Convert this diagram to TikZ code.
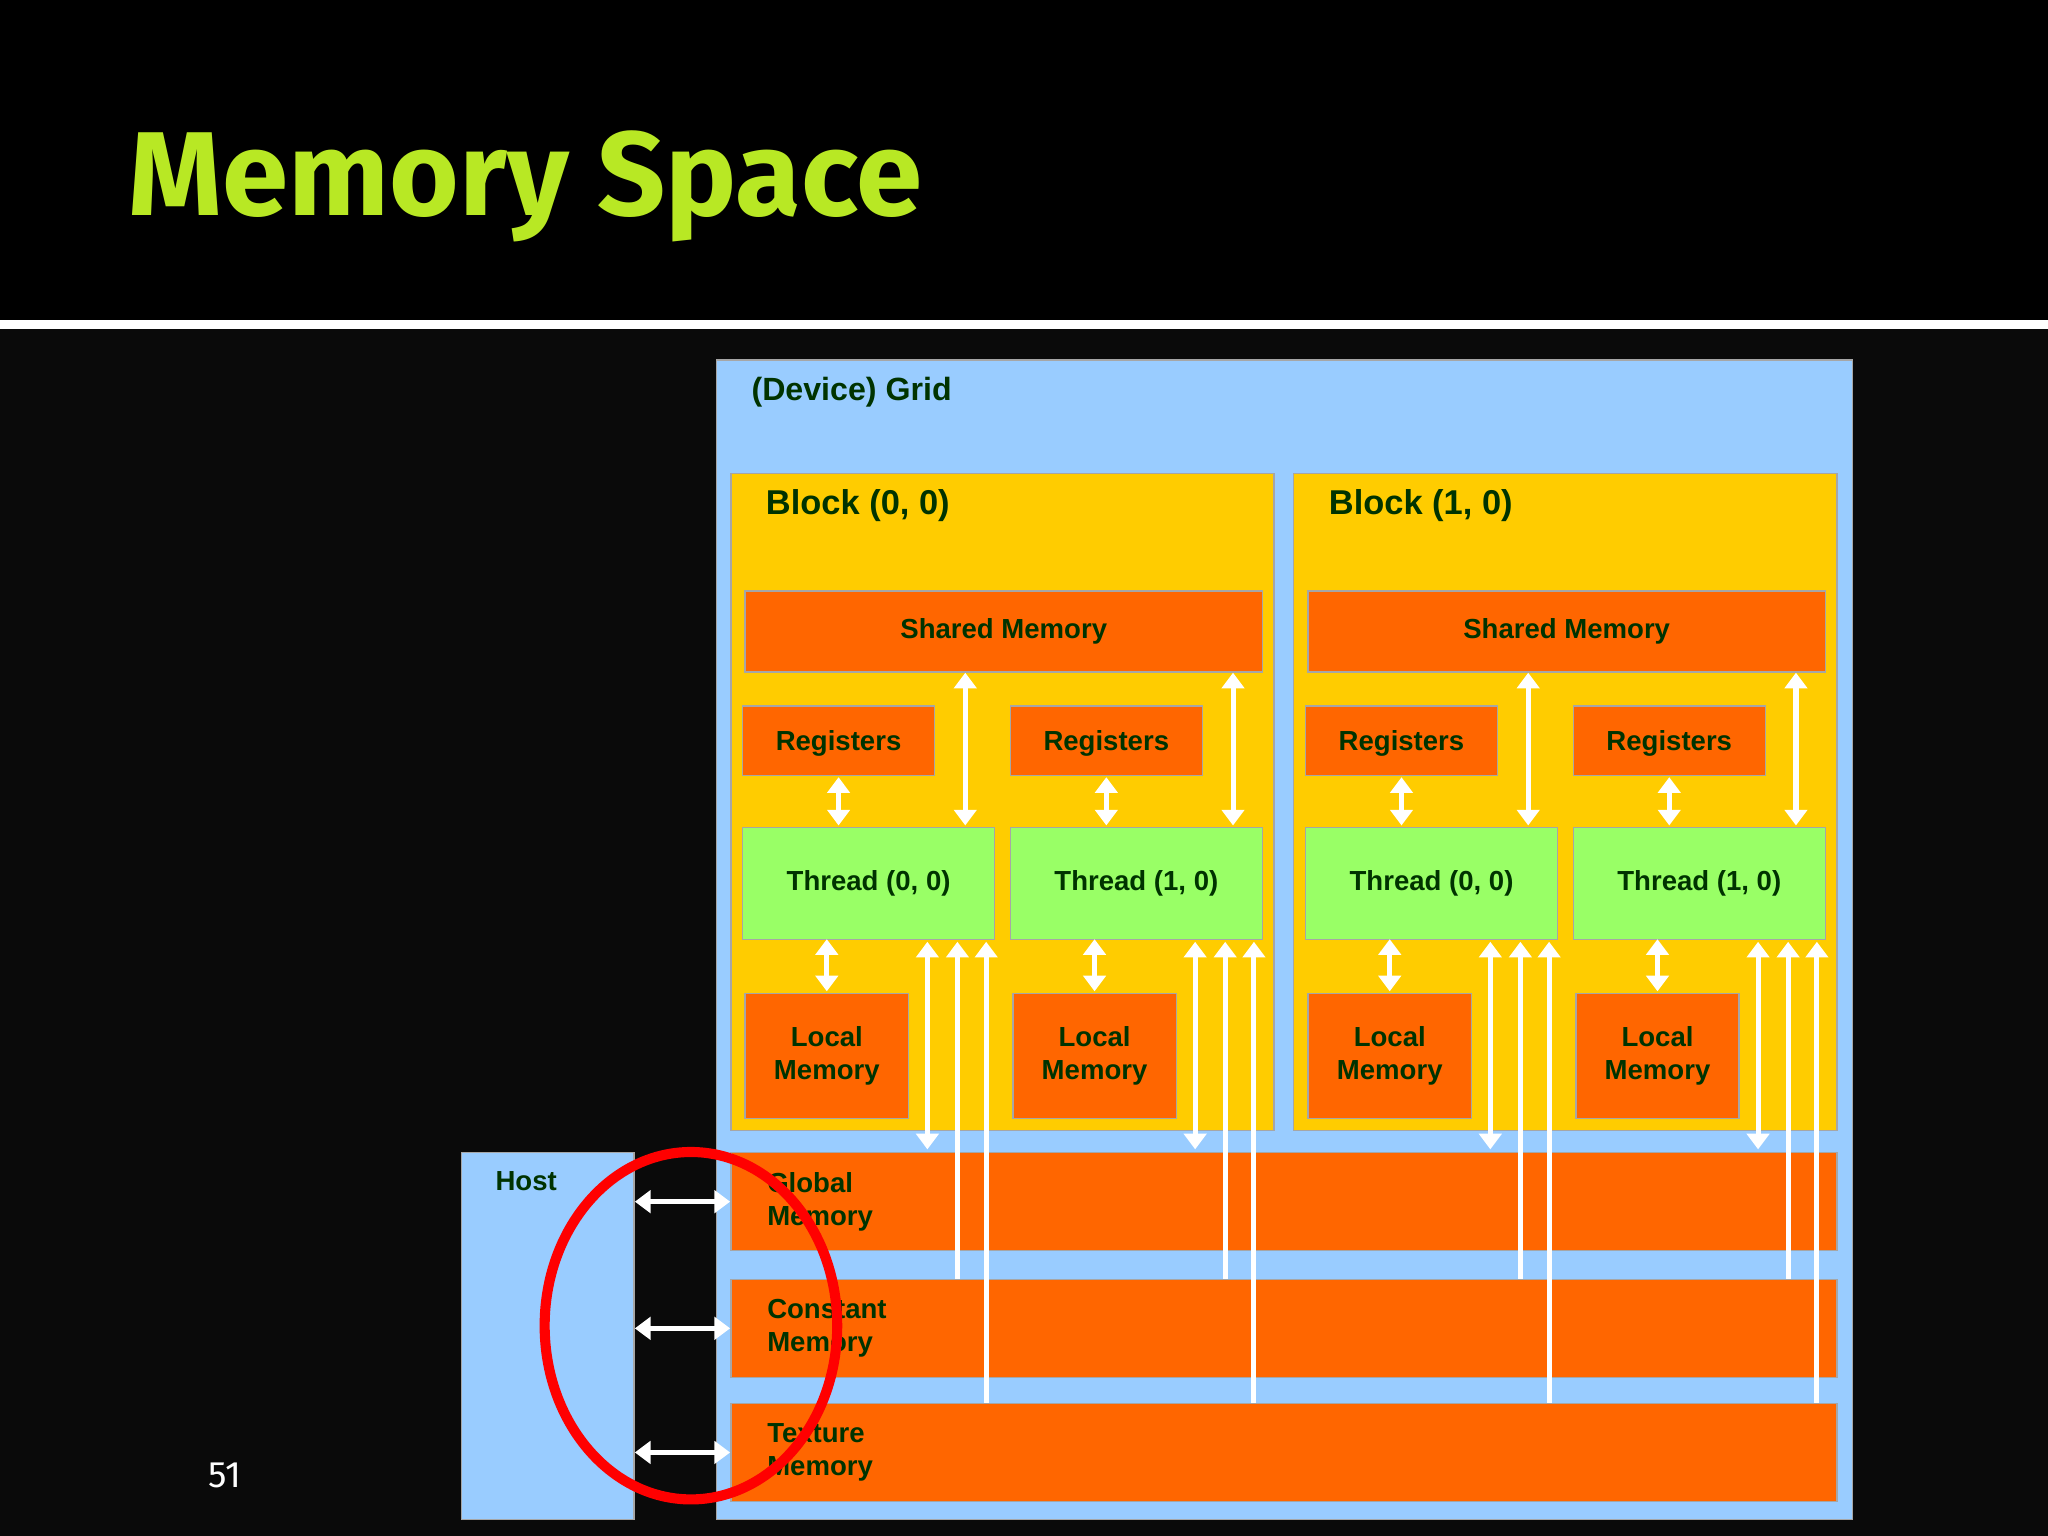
\documentclass[tikz,border=0pt]{standalone}
\usepackage{fontspec}
\setmainfont{Liberation Sans}
\newfontfamily\titlefont{Fira Sans}
\usetikzlibrary{arrows.meta}
\definecolor{lblue}{HTML}{99CCFF}
\definecolor{yel}{HTML}{FFCC00}
\definecolor{org}{HTML}{FF6600}
\definecolor{lgreen}{HTML}{99FF66}
\definecolor{dgreen}{HTML}{003300}
\definecolor{ttl}{HTML}{B8E824}
\begin{document}
\begin{tikzpicture}[x=0.01cm,y=-0.01cm,
  box/.style={draw=gray!70,line width=0.3pt,anchor=north west,inner sep=0pt},
  lab/.style={font=\bfseries\fontsize{6}{7.2}\selectfont,text=dgreen,align=center},
  arr/.style={draw=white,line width=1.1pt,-{Triangle[width=0.17cm,length=0.12cm]}},
  darr/.style={draw=white,line width=1.1pt,{Triangle[width=0.17cm,length=0.12cm]}-{Triangle[width=0.17cm,length=0.12cm]}}]
\fill[black!96] (0,0) rectangle (1568,1176);
\useasboundingbox (0,0) rectangle (1568,1176);
\fill[black] (0,0) rectangle (1568,245);
\fill[white] (0,245) rectangle (1568,252);
\node[anchor=base west,text=ttl,font=\titlefont\bfseries\fontsize{26}{30}\selectfont,inner sep=0pt] (title) at (98,165) {Memory Space};
\node[text=white,font=\titlefont\fontsize{8}{9}\selectfont] (pg) at (172,1130) {51};
% grid
\node[box,fill=lblue,minimum width=870*0.01cm,minimum height=888*0.01cm] (grid) at (548,275) {};
\node[lab,anchor=west,font=\bfseries\fontsize{7}{8}\selectfont] (gridl) at (563,300) {(Device) Grid};
\foreach \b/\dx in {0/0,1/431}{
  \begin{scope}[xshift=\dx*0.01cm]
  \node[box,fill=yel,minimum width=416*0.01cm,minimum height=503*0.01cm] (blk\b) at (559,362) {};
  \node[lab,anchor=west,font=\bfseries\fontsize{7.5}{8}\selectfont] (blkl\b) at (574,387) {Block (\b, 0)};
  \node[box,fill=org,minimum width=396*0.01cm,minimum height=62*0.01cm] (sh\b) at (570,452) {};
  \node[lab] at (sh\b.center) {Shared Memory};
  \foreach \t/\tx in {0/0,1/205}{
    \begin{scope}[xshift=\tx*0.01cm]
    \node[box,fill=org,minimum width=147*0.01cm,minimum height=53*0.01cm] (rg\b\t) at (568,540) {};
    \node[lab,anchor=north] at (rg\b\t.north) [yshift=-0.07cm] {Registers};
    \node[box,fill=lgreen,minimum width=193*0.01cm,minimum height=86*0.01cm] (th\b\t) at (568,633) {};
    \node[lab] at (th\b\t.center) {Thread (\t, 0)};
    \node[box,fill=org,minimum width=125*0.01cm,minimum height=96*0.01cm] (lm\b\t) at (570,760) {};
    \node[lab] at (lm\b\t.center) {Local\\Memory};
    \end{scope}}
  \end{scope}}
% memories
\node[box,fill=org,minimum width=847*0.01cm,minimum height=75*0.01cm] (gm) at (559,882) {};
\node[box,fill=org,minimum width=847*0.01cm,minimum height=75*0.01cm] (cm) at (559,979) {};
\node[box,fill=org,minimum width=847*0.01cm,minimum height=75*0.01cm] (tm) at (559,1074) {};
\node[lab,align=left,anchor=west] at ([xshift=0.16cm]gm.west) {Global\\Memory};
\node[lab,align=left,anchor=west] at ([xshift=0.16cm]cm.west) {Constant\\Memory};
\node[lab,align=left,anchor=west] at ([xshift=0.16cm]tm.west) {Texture\\Memory};
\node[box,fill=lblue,minimum width=132*0.01cm,minimum height=281*0.01cm] (host) at (353,882) {};
\node[lab,anchor=west] at (367,904) {Host};
% arrows inside blocks
\foreach \b in {0,1}{\foreach \t in {0,1}{
  \draw[darr] ([yshift=-0.01cm]rg\b\t.south) -- ([yshift=0.01cm]rg\b\t.south |- th\b\t.north);
  \draw[darr] ([xshift=-0.23cm]th\b\t.north east |- sh\b.south) -- ([xshift=-0.23cm,yshift=0.01cm]th\b\t.north east);
  \draw[darr] ([yshift=0.01cm]lm\b\t.north |- th\b\t.south) -- ([yshift=0.01cm]lm\b\t.north);
  \draw[darr] ([xshift=-0.52cm,yshift=-0.01cm]th\b\t.south east) -- ([xshift=-0.52cm,yshift=0.02cm]th\b\t.south east |- gm.north);
  \draw[arr] ([xshift=-0.29cm]th\b\t.south east |- cm.north) -- ([xshift=-0.29cm,yshift=-0.01cm]th\b\t.south east);
  \draw[arr] ([xshift=-0.07cm]th\b\t.south east |- tm.north) -- ([xshift=-0.07cm,yshift=-0.01cm]th\b\t.south east);
}}
\foreach \m in {gm,cm,tm}{
  \draw[darr] (host.east |- \m.west) -- (\m.west);}
\draw[red,line width=2.2pt] (529,1015) ellipse [x radius=112, y radius=133];
\end{tikzpicture}
\end{document}
